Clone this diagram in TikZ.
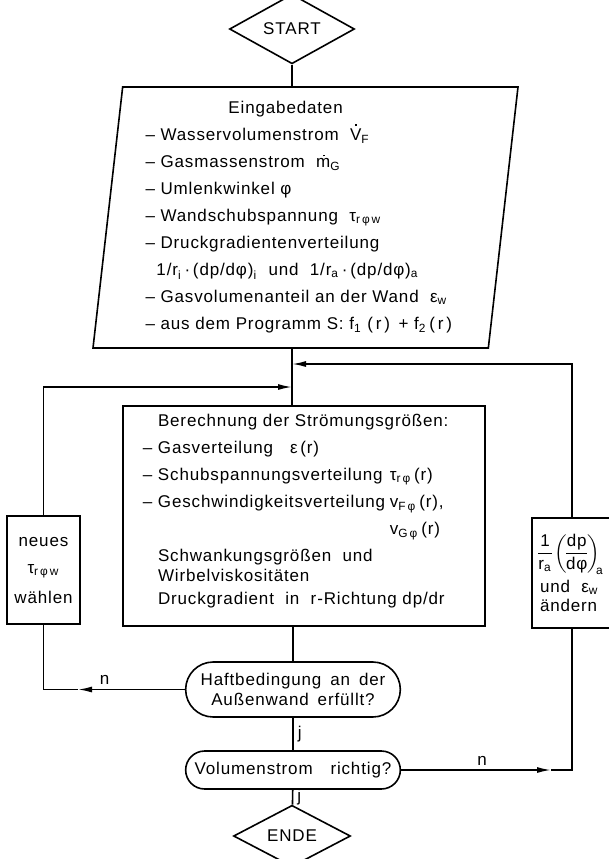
\documentclass[tikz,border=0pt]{standalone}
\usepackage{fontspec}
\usepackage{amsmath}
\setmainfont{Liberation Sans}[LetterSpace=5,WordSpace=1.6]
\usetikzlibrary{shapes.geometric,shapes.misc,arrows.meta}

\newcommand{\dotted}[3]{\makebox[0pt][l]{\hspace{#1}\raisebox{#2}{\rule{0.9pt}{0.9pt}}}#3}
\newcommand{\sbs}[1]{\textsubscript{#1}}

\tikzset{
  every node/.style={font=\fontsize{8.5}{13.5}\selectfont},
  terminal/.style={diamond, draw, inner sep=0pt},
  inputbox/.style={trapezium, draw, trapezium left angle=83.1, trapezium right angle=96.9,
    trapezium stretches body, minimum width=212.5pt, minimum height=130.5pt,
    text width=160pt, align=left},
  procbox/.style={rectangle, draw},
  query/.style={rounded rectangle, draw, align=center, minimum width=114pt},
  flow/.style={-{Latex[length=7pt,width=3pt]}},
  mark label/.style={inner sep=2pt}
}

\begin{document}
\begin{tikzpicture}[x=0.5pt,y=-0.5pt,line width=0.8pt]
        \useasboundingbox (0,0) rectangle (609,859);
        \node[terminal, minimum width=62.5pt, minimum height=23.5pt] (start) at (292,29) {START};
        \node[inputbox] (input) at (305.5,217.5) {\hspace*{41.5pt}Eingabedaten\\
          –\ Wasservolumenstrom\ \ \dotted{2.6pt}{7.4pt}{V}\sbs{F}\\
          –\ Gasmassenstrom\ \ \dotted{3.4pt}{5.8pt}{m}\sbs{G}\\
          –\ Umlenkwinkel\ φ\\
          –\ Wandschubspannung\ \ τ\sbs{r\,φ\,w}\\
          –\ Druckgradientenverteilung\\
          \hspace*{5.5pt}1/r\sbs{i}\,·\,(dp/dφ)\sbs{i}\ \ und\ \ 1/r\sbs{a}\,·\,(dp/dφ)\sbs{a}\\
          –\ Gasvolumenanteil an der Wand\ \ ε\sbs{w}\\
          –\ aus dem Programm S:\ f\sbs{1}\ (\,r\,)\,\ +\ f\sbs{2}\,(\,r\,)};
        \node[procbox, minimum width=181pt, minimum height=110pt, text width=170pt, align=left] (calc) at (304,516) {\hspace*{12pt}Berechnung der Strömungsgrößen:\\
          \hspace*{12pt}\llap{–\ }Gasverteilung\ \ \ ε\,(r)\\
          \hspace*{12pt}\llap{–\ }\makebox[116pt][l]{Schubspannungsverteilung}τ\sbs{r\,φ}\,(r)\\
          \hspace*{12pt}\llap{–\ }\makebox[116pt][l]{Geschwindigkeitsverteilung}v\sbs{F\,φ}\,(r),\\
          \hspace*{128pt}v\sbs{G\,φ}\,(r)\\
          \hspace*{12pt}Schwankungsgrößen\ \ und\\[-3.5pt]
          \hspace*{12pt}Wirbelviskositäten\\[-2pt]
          \hspace*{12pt}Druckgradient\ \ in\ \ r-Richtung dp/dr\\[-7pt]\mbox{}};
        \node[procbox, minimum width=36.5pt, minimum height=54pt, align=center] (neues) at (43.5,570) {neues\\τ\sbs{r\,φ\,w}\\[1.5pt]wählen};
        \node[procbox, minimum width=44pt, minimum height=55pt, text width=36pt, align=left] (aendern) at (576,573)
          {\hspace*{-2pt}$\displaystyle\frac{\text{1}}{\text{r}_{\text{a}}}\mkern-3mu\left(\mkern-3mu\frac{\text{dp}}{\text{dφ}}\mkern-3mu\right)_{\mkern-4mu\text{a}}$\\[2pt]
           und\ \ ε\sbs{w}\\[-4pt]ändern};
        \node[query, minimum height=27.5pt] (haft) at (293,689.5) {Haftbedingung an der\\[-3.5pt]Außenwand erfüllt?};
        \node[query, minimum height=19pt] (vol) at (293,770) {Volumenstrom\ \ richtig?};
        \node[terminal, minimum width=58.5pt, minimum height=21.5pt] (ende) at (292,836) {ENDE};
        \coordinate (mergeR) at (292,364);
        \coordinate (mergeL) at (292,387);
        \coordinate (backL) at (78,689.5);
        \coordinate (backR) at (551,770);
        \draw (start) -- (start |- input.north);
        \draw (input.south -| start) -- (calc.north -| start);
        \draw[flow] (aendern.north -| backR) ++(21,0) |- (mergeR);
        \draw[flow] (neues.north) |- (mergeL);
        \draw (calc.south -| haft) -- (haft);
        \draw (haft) -- node[right, mark label] (j1) {j} (vol);
        \draw (vol) -- node[right, mark label] (j2) {j} (ende);
        \draw[flow] (haft) -- node[above, mark label, pos=0.75] (n1) {n} (backL);
        \draw (backL) -| (neues);
        \draw[flow] (vol) -- node[above, mark label, pos=0.54] (n2) {n} (backR);
        \draw (backR) -| ([xshift=10.5pt]backR |- aendern.south);
    \end{tikzpicture}
\end{document}
